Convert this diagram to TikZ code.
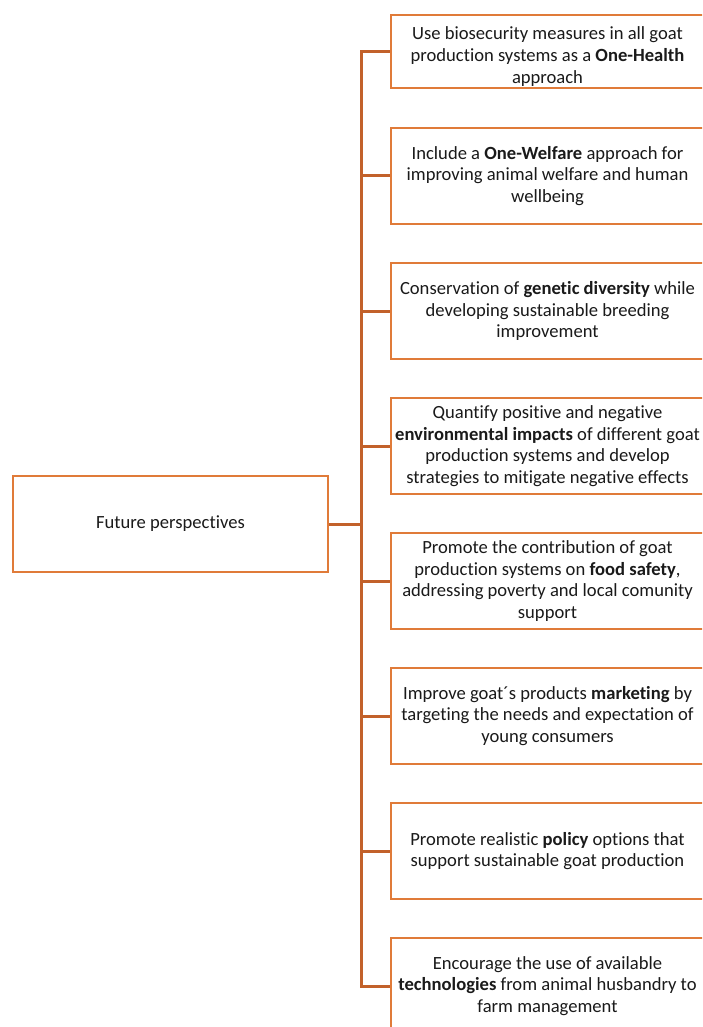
\documentclass[tikz,border=0pt]{standalone}
\usepackage{fontspec}
\setmainfont{Carlito}[Ligatures={NoCommon}]
\definecolor{conn}{HTML}{C2612A}
\definecolor{boxc}{HTML}{E07B39}
\definecolor{txt}{HTML}{1A1A1A}
\begin{document}
\begin{tikzpicture}[x=1pt,y=-1pt,
  boxtext/.style={inner sep=0pt,align=center,font=\fontsize{18.6}{21.7}\selectfont,text=txt},
  box/.style={boxtext,draw=boxc,line width=2.2pt,fill=white},
  rbox/.style={box,minimum width=313,minimum height=96},
  link/.style={draw=conn,line width=3pt}]
\useasboundingbox (0,0) rectangle (702,1027);
\clip (0,0) rectangle (702,1027);
\node[box,minimum width=315,minimum height=96] (L) at (170.5,524) {Future perspectives};
\node[rbox,minimum height=73] (R1) at (547.5,51.5) {};
\node[boxtext] (R1t) at ([yshift=-5pt]R1.center) {Use biosecurity measures in all goat\\production systems as a \textbf{One-Health}\\approach};
\node[rbox] (R2) at (547.5,176) {Include a \textbf{One-Welfare} approach for\\improving animal welfare and human\\wellbeing};
\node[rbox] (R3) at (547.5,311) {Conservation of \textbf{genetic diversity} while\\developing sustainable breeding\\improvement};
\node[rbox] (R4) at (547.5,446) {Quantify positive and negative\\\textbf{environmental impacts} of different goat\\production systems and develop\\strategies to mitigate negative effects};
\node[rbox] (R5) at (547.5,581) {Promote the contribution of goat\\production systems on \textbf{food safety},\\addressing poverty and local comunity\\support};
\node[rbox] (R6) at (547.5,716) {Improve goat´s products \textbf{marketing} by\\targeting the needs and expectation of\\young consumers};
\node[rbox] (R7) at (547.5,851) {Promote realistic \textbf{policy} options that\\support sustainable goat production};
\node[rbox] (R8) at (547.5,986) {Encourage the use of available\\\textbf{technologies} from animal husbandry to\\farm management};
\draw[link] (L.east) -- ++(32,0) coordinate (j);
\foreach \i in {1,...,8} {\draw[link] (j) |- (R\i.west);}
\end{tikzpicture}
\end{document}
